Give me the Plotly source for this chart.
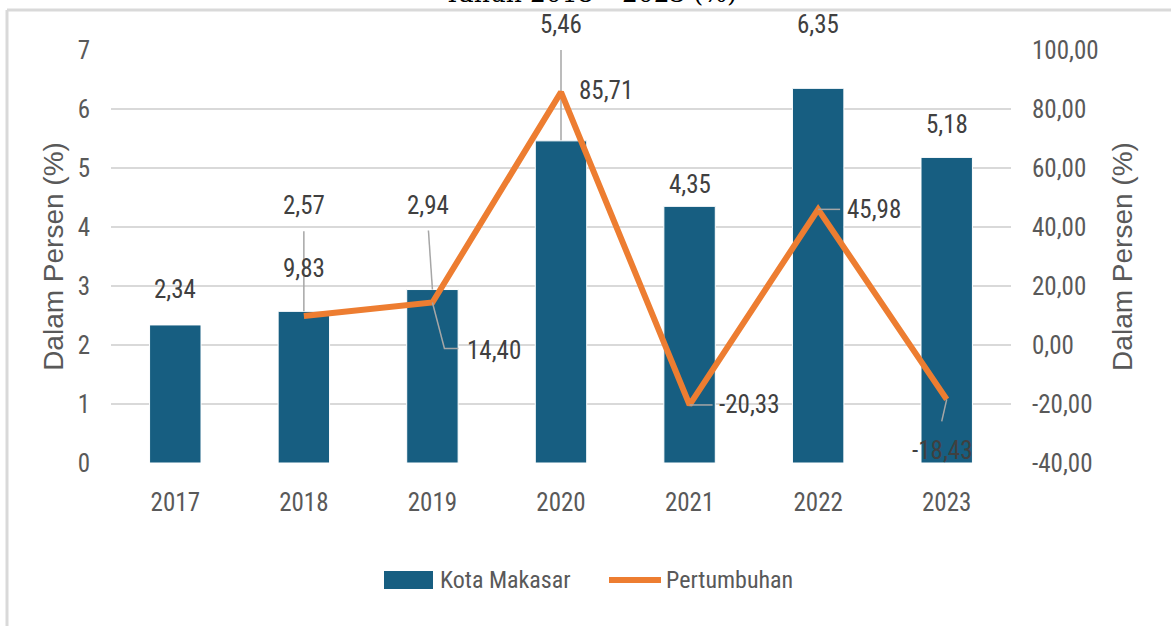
import plotly.graph_objects as go

# ---- data ----
years = ["2017", "2018", "2019", "2020", "2021", "2022", "2023"]
kota_makassar = [2.34, 2.57, 2.94, 5.46, 4.35, 6.35, 5.18]
pertumbuhan = [None, 9.83, 14.40, 85.71, -20.33, 45.98, -18.43]
left_ticks = [0, 1, 2, 3, 4, 5, 6, 7]
right_ticks = [-40, -20, 0, 20, 40, 60, 80, 100]
right_tick_text = ["-40,00", "-20,00", "0,00", "20,00", "40,00", "60,00", "80,00", "100,00"]


def fmt(v):
    return f"{v:.2f}".replace(".", ",")


# ---- style ----
W, H = 1171, 626
ML, MR, MT, MB = 111, 160, 50, 163
PW, PH = W - ML - MR, H - MT - MB
BAR = "#175E81"
LINE = "#ED7D31"
GRID = "#D9D9D9"
TICK_C = "#595959"
LABEL_C = "#404040"
LEADER = "#A6A6A6"
NARROW = "Liberation Sans Narrow, Roboto Condensed, Arial Narrow, sans-serif"
SANS = "Liberation Sans, Arial, sans-serif"


def px(x):
    return (x - ML) / PW


def py(y):
    return (MT + PH - y) / PH


fig = go.Figure()
fig.add_trace(go.Bar(
    x=years, y=kota_makassar, name="Kota Makasar",
    marker=dict(color=BAR, line=dict(color="#FFFFFF", width=1)),
    yaxis="y", showlegend=False,
))
fig.add_trace(go.Scatter(
    x=years, y=pertumbuhan, name="Pertumbuhan", mode="lines",
    line=dict(color=LINE, width=6), yaxis="y2", showlegend=False,
))

annotations = []
shapes = []

# bar value labels: (x shift, y shift) in pixels from the bar top;
# x positions use the category index on the x axis
bar_label_shift = [(0, 35), (0, 106), (-4, 84), (0, 116), (0, 22), (0, 64), (0, 33)]
for i, (v, (dx, dy)) in enumerate(zip(kota_makassar, bar_label_shift)):
    annotations.append(dict(
        x=i, y=v, xref="x", yref="y", text=fmt(v), showarrow=False,
        xshift=dx, yshift=dy, font=dict(family=NARROW, size=25, color=LABEL_C),
    ))

# growth labels: pixel shift from the line point
line_label_shift = [None, (0, 48), (62, -48), (45, 2), (60, 0), (56, 0), (-4, -51)]
for i, (v, shift) in enumerate(zip(pertumbuhan, line_label_shift)):
    if v is None:
        continue
    dx, dy = shift
    annotations.append(dict(
        x=i, y=v, xref="x", yref="y2", text=fmt(v), showarrow=False,
        xshift=dx, yshift=dy, font=dict(family=NARROW, size=25, color=LABEL_C),
    ))

# leader lines (pixel paths anchored at data points, y up)
leaders = [
    (1, kota_makassar[1], "y", "M 0,0 L 0,80", "above"),
    (2, kota_makassar[2], "y", "M 0,0 L -4,59", "above"),
    (2, pertumbuhan[2], "y2", "M 0,0 L 12,-46 L 26,-46", "above"),
    (3, kota_makassar[3], "y", "M 0,0 L 0,100", "between"),
    (4, pertumbuhan[4], "y2", "M 0,0 L 23,0", "above"),
    (5, pertumbuhan[5], "y2", "M 0,0 L 22,0", "above"),
    (6, pertumbuhan[6], "y2", "M 0,0 L -5,-22", "above"),
]
for xa, ya, yref, path, layer in leaders:
    shapes.append(dict(
        type="path", xref="x", yref=yref, xsizemode="pixel", ysizemode="pixel",
        xanchor=xa, yanchor=ya, path=path, layer=layer,
        line=dict(color=LEADER, width=1.5),
    ))

# outer frame (top and left edges)
shapes.append(dict(type="line", xref="paper", yref="paper",
                   x0=px(7), x1=px(W + 5), y0=py(10), y1=py(10),
                   line=dict(color=GRID, width=3), layer="above"))
shapes.append(dict(type="line", xref="paper", yref="paper",
                   x0=px(7), x1=px(7), y0=py(10), y1=py(H + 5),
                   line=dict(color=GRID, width=3), layer="above"))

# title at the top edge
annotations.append(dict(
    x=px(590), y=py(10), xref="paper", yref="paper", xanchor="center", yanchor="bottom",
    text="Tahun 2018 – 2023 (%)", showarrow=False,
    font=dict(family="DejaVu Serif, serif", size=25, color="#000000"),
))

# legend
shapes.append(dict(type="rect", xref="paper", yref="paper",
                   x0=px(384), x1=px(433), y0=py(589), y1=py(571),
                   fillcolor=BAR, line=dict(width=0)))
annotations.append(dict(x=px(438), y=py(580), xref="paper", yref="paper",
                        xanchor="left", yanchor="middle", text="Kota Makasar", showarrow=False,
                        font=dict(family=NARROW, size=24, color=TICK_C)))
shapes.append(dict(type="line", xref="paper", yref="paper",
                   x0=px(609), x1=px(661), y0=py(580), y1=py(580),
                   line=dict(color=LINE, width=6)))
annotations.append(dict(x=px(664), y=py(580), xref="paper", yref="paper",
                        xanchor="left", yanchor="middle", text="Pertumbuhan", showarrow=False,
                        font=dict(family=NARROW, size=24, color=TICK_C)))

fig.update_layout(
    width=W, height=H,
    margin=dict(l=ML, r=MR, t=MT, b=MB, pad=0),
    paper_bgcolor="white", plot_bgcolor="white",
    bargap=0.6,
    showlegend=False,
    xaxis=dict(
        type="category", categoryorder="array", categoryarray=years,
        range=[-0.5, len(years) - 0.5],
        showgrid=False, showline=False, zeroline=False, ticks="",
        tickfont=dict(family=NARROW, size=25, color=TICK_C),
        ticklabelstandoff=22,
    ),
    yaxis=dict(
        range=[0, 7], tickvals=left_ticks, showgrid=True, gridcolor=GRID, gridwidth=2,
        zeroline=False, showline=False, ticks="",
        tickfont=dict(family=NARROW, size=25, color=TICK_C),
        ticklabelstandoff=20,
        title=dict(text="Dalam Persen (%)", standoff=5,
                   font=dict(family=SANS, size=28, color=TICK_C)),
    ),
    yaxis2=dict(
        range=[-40, 100], tickvals=right_ticks, ticktext=right_tick_text,
        overlaying="y", side="right", showgrid=False, zeroline=False, showline=False, ticks="",
        tickfont=dict(family=NARROW, size=25, color=TICK_C),
        ticklabelstandoff=20,
        title=dict(text="Dalam Persen (%)", standoff=14,
                   font=dict(family=SANS, size=28, color=TICK_C)),
    ),
    annotations=annotations,
    shapes=shapes,
)

fig.write_html("out.html")
